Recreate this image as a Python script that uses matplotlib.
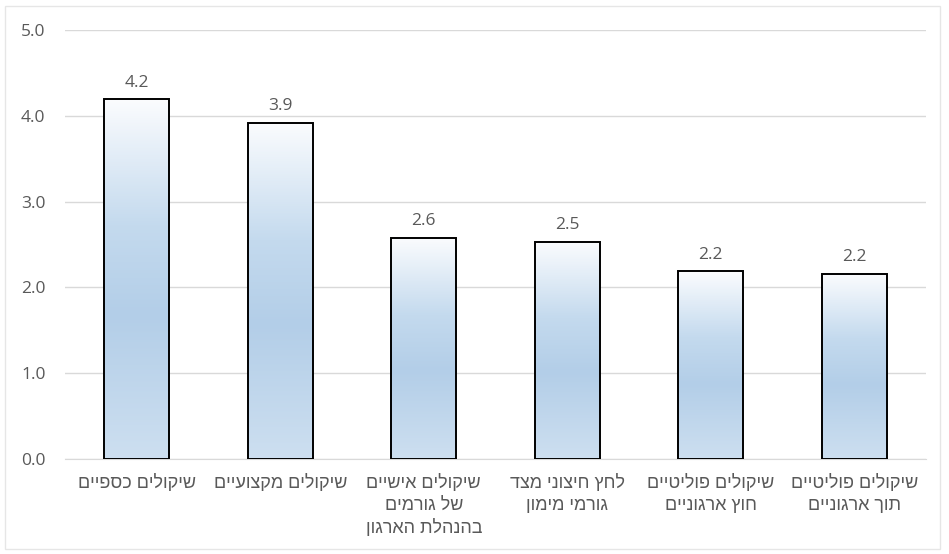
import numpy as np
import matplotlib
matplotlib.use('Agg')
import matplotlib.pyplot as plt
from matplotlib.colors import LinearSegmentedColormap
from matplotlib.patches import Rectangle

# data
categories = ['שיקולים כספיים',
              'שיקולים מקצועיים',
              'שיקולים אישיים\nשל גורמים\nבהנהלת הארגון',
              'לחץ חיצוני מצד\nגורמי מימון',
              'שיקולים פוליטיים\nחוץ ארגוניים',
              'שיקולים פוליטיים\nתוך ארגוניים']
values = [4.19, 3.92, 2.58, 2.53, 2.19, 2.16]
yticks = [0, 1, 2, 3, 4, 5]

text_col = '#595959'
grid_col = '#d9d9d9'
num_font = ['Open Sans', 'DejaVu Sans']
heb_font = ['Liberation Sans', 'DejaVu Sans']


def visual(s):
    # matplotlib has no bidi support, so flip each hebrew line by hand
    return '\n'.join(line[::-1] for line in s.split('\n'))


# gradient: white top, blue in the middle, lighter blue at the bottom
grad = LinearSegmentedColormap.from_list(
    'excel', [(0.0, '#cddff0'), (0.4, '#b3cee8'), (0.65, '#c4daee'), (1.0, '#fbfcfe')])

fig = plt.figure(figsize=(9.49, 5.54), dpi=100)
ax = fig.add_axes([65 / 949, 95 / 554, 861 / 949, 429 / 554])

x = np.arange(len(categories))
width = 0.45
bars = ax.bar(x, values, width, facecolor='none', edgecolor='black', linewidth=1.4, zorder=3)

g = np.linspace(0, 1, 256).reshape(-1, 1)
for b in bars:
    x0, y0 = b.get_x(), b.get_y()
    w, h = b.get_width(), b.get_height()
    im = ax.imshow(g, cmap=grad, origin='lower', aspect='auto',
                   extent=[x0, x0 + w, y0, y0 + h], zorder=2)
    clip = Rectangle((x0, y0), w, h, transform=ax.transData)
    im.set_clip_path(clip)
    ax.text(x0 + w / 2, y0 + h + 0.1, f'{h:.1f}', ha='center', va='bottom',
            fontsize=12.5, color=text_col, family=num_font)

ax.set_xlim(-0.5, len(categories) - 0.5)
ax.set_ylim(0, 5)
ax.set_yticks(yticks)
ax.set_yticklabels([f'{v:.1f}' for v in yticks], fontsize=12.5, color=text_col,
                   family=num_font)
ax.set_xticks(x)
ax.set_xticklabels([visual(c) for c in categories], fontsize=13, color=text_col,
                   linespacing=1.35, va='top', family=heb_font)
ax.tick_params(axis='x', length=0, pad=11)
ax.tick_params(axis='y', length=0, pad=14)
ax.grid(axis='y', color=grid_col, linewidth=1, zorder=0)
for side in ['top', 'right', 'left']:
    ax.spines[side].set_visible(False)
ax.spines['bottom'].set_color(grid_col)
ax.spines['bottom'].set_zorder(1)

# thin frame round the whole chart
fig.patches.append(Rectangle((5 / 949, 5 / 554), 935 / 949, 543 / 554,
                             transform=fig.transFigure, fill=False,
                             edgecolor='#e6e6e6', linewidth=1))

fig.savefig('out.png', dpi=100)
